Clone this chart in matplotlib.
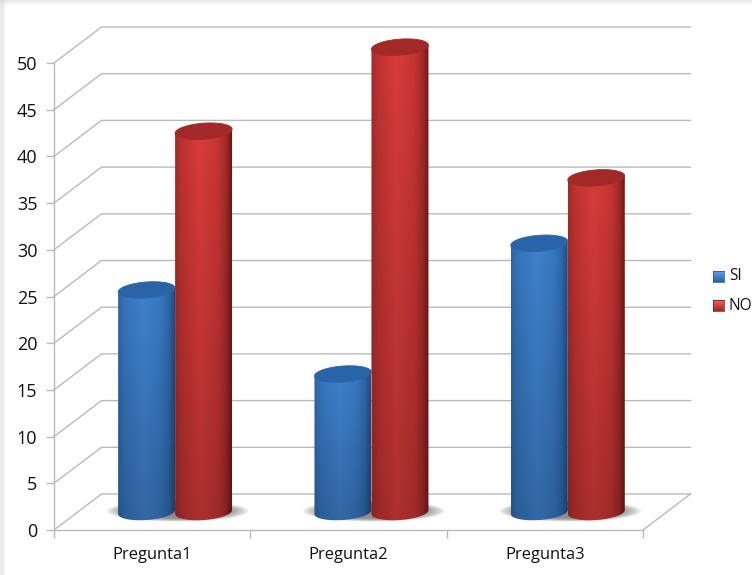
import numpy as np
import matplotlib
matplotlib.use("Agg")
import matplotlib.pyplot as plt
from matplotlib.patches import Polygon, Ellipse, Rectangle

plt.rcParams["font.family"] = ["Open Sans", "DejaVu Sans"]

categories = ["Pregunta1", "Pregunta2", "Pregunta3"]
si_values = [24, 15, 29]
no_values = [41, 50, 36]
y_ticks = list(range(0, 55, 5))

W, H = 752, 575
LEFT, RIGHT, BOTTOM, TOP = 54, 643, 530, 63
GRID = "#bababa"

fig = plt.figure(figsize=(W / 100, H / 100), dpi=100, facecolor="white")
ax = fig.add_axes([LEFT / W, 1 - BOTTOM / H, (RIGHT - LEFT) / W, (BOTTOM - TOP) / H])
ax.set_xlim(0, 3)
ax.set_ylim(0, 50)
ax.patch.set_visible(False)

px_x = 3 / (RIGHT - LEFT)
px_y = 50 / (BOTTOM - TOP)
depth_x = 47.5 * px_x
depth_y = 36 * px_y
half_w = 28.5 * px_x
half_h = 8 * px_y
tilt = 2 * px_y

# Soft grey frame along the top and left edges of the canvas
for i, a in enumerate(np.linspace(0.02, 0.10, 6)):
    fig.patches.append(Rectangle((0, 1 - (7 - i) / H), 1, (7 - i) / H,
                                 transform=fig.transFigure, fc="#808080", ec="none", alpha=a * 0.4))
    fig.patches.append(Rectangle((0, 0), (8 - i) / W, 1,
                                 transform=fig.transFigure, fc="#808080", ec="none", alpha=a * 0.4))

# Walls of the 3D box
for v in y_ticks:
    ax.plot([0, depth_x, 3 + depth_x], [v, v + depth_y, v + depth_y],
            color=GRID, lw=1.0, clip_on=False, zorder=1)
ax.plot([3, 3 + depth_x], [0, depth_y], color=GRID, lw=1.0, clip_on=False, zorder=1)

for side in ("top", "right"):
    ax.spines[side].set_visible(False)
for side in ("left", "bottom"):
    ax.spines[side].set_color(GRID)
    ax.spines[side].set_linewidth(1.0)
    ax.spines[side].set_zorder(1)
ax.set_yticks(y_ticks)
ax.set_xticks(range(4))
ax.set_xticklabels([])
ax.set_xticks([0.5, 1.5, 2.5], minor=True)
ax.set_xticklabels(categories, minor=True, fontsize=11.9, color="#111111")
ax.tick_params(axis="y", length=6, width=1.0, color=GRID, labelsize=13, labelcolor="#111111", pad=6)
ax.tick_params(axis="x", which="major", length=6, width=1.0, color=GRID)
ax.tick_params(axis="x", which="minor", length=0, pad=12)


def ring(cx, cy, start, stop, n=80):
    t = np.linspace(start, stop, n)
    return cx + half_w * np.cos(t), cy + half_h * np.sin(t) + tilt * np.cos(t)


def shade(center, edge, top_gain, bottom_gain):
    """Horizontal cylinder shading, dimmed gradually towards the foot."""
    u = np.linspace(0, 1, 120)
    prof = np.interp(u, [0, 0.12, 0.45, 0.75, 0.9, 1], [0.5, 0.75, 1, 0.82, 0.5, 0.0])
    c, e = np.array(matplotlib.colors.to_rgb(center)), np.array(matplotlib.colors.to_rgb(edge))
    row = e + (c - e) * prof[:, None]
    gain = np.linspace(top_gain, bottom_gain, 160)[:, None, None]
    return np.clip(row[None, :, :] * gain, 0, 1)


def cylinder(cx, value, center, edge, cap, z):
    foot = depth_y / 2
    head = value + 1.7
    bx, by = ring(cx, foot, 0, -np.pi)
    tx, ty = cx + half_w, head + tilt
    lx, ly = cx - half_w, head - tilt
    body = Polygon(np.column_stack([np.r_[tx, bx, lx], np.r_[ty, by, ly]]),
                   closed=True, transform=ax.transData, fc="none", ec="none")
    ax.add_patch(body)
    body.set_clip_on(False)
    low = foot - half_h - tilt
    high = head + tilt + half_h
    im = ax.imshow(shade(center, edge, 1.0, 0.8), extent=[cx - half_w, cx + half_w, low, high],
                   aspect="auto", origin="upper", zorder=z, interpolation="bilinear")
    im.set_clip_box(fig.bbox)
    im.set_clip_path(body)
    ex, ey = ring(cx, head, 0, 2 * np.pi)
    ax.fill(ex, ey, fc=cap, ec=cap, lw=0.6, zorder=z + 0.1, clip_on=False)


SI_COLORS = ("#3f82cf", "#1d4c82", "#2a64a8")
NO_COLORS = ("#d93c3a", "#701818", "#a32828")

for i in range(len(categories)):
    mid = i + 0.5 + depth_x / 2 - 0.8 * px_x
    # Blurred floor shadow beneath each pair of cylinders
    for k in np.linspace(1.0, 0.7, 8):
        ax.add_patch(Ellipse((mid + 2.5 * px_x, depth_y / 2 + 1.0 * px_y), 141 * k * px_x, 21 * k * px_y,
                             fc="#555555", ec="none", alpha=0.12, zorder=2, clip_on=False))
    cylinder(mid - half_w, si_values[i], *SI_COLORS, z=3)
    cylinder(mid + half_w, no_values[i], *NO_COLORS, z=4)

ax.set_xlim(0, 3)
ax.set_ylim(0, 50)

# Legend entries
for label, y, colors in (("SI", 276.5, SI_COLORS), ("NO", 305.5, NO_COLORS)):
    sw = fig.add_axes([713 / W, 1 - (y + 5.5) / H, 11 / W, 11 / H])
    grad = np.linspace(0, 1, 20)[:, None, None]
    c = np.array(matplotlib.colors.to_rgb(colors[0]))
    e = np.array(matplotlib.colors.to_rgb(colors[2]))
    sw.imshow(np.clip(c + 0.12 - (c + 0.12 - e) * grad, 0, 1), aspect="auto")
    sw.set_xticks([])
    sw.set_yticks([])
    for s in sw.spines.values():
        s.set_color(colors[1])
        s.set_linewidth(0.5)
    fig.text(729 / W, 1 - y / H, label, fontsize=11.2, color="#111111", va="center", ha="left")

fig.savefig("out.png", dpi=100, facecolor="white")
